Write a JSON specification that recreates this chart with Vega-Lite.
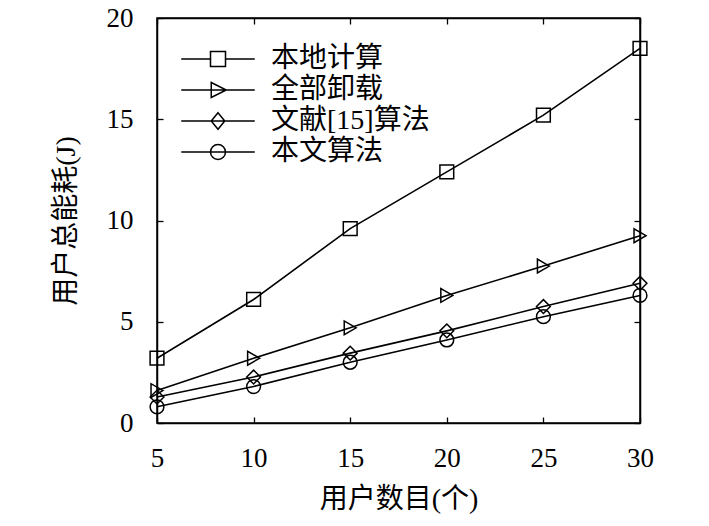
{
  "$schema": "https://vega.github.io/schema/vega-lite/v6.json",
  "autosize": {"type": "none"},
  "padding": {"left": 157, "top": 18, "right": 69, "bottom": 103},
  "width": 483,
  "height": 405,
  "background": "white",
  "config": {
    "view": {"stroke": "black", "strokeWidth": 1.5},
    "font": "Liberation Serif, Noto Sans CJK SC",
    "axis": {
      "domainColor": "black",
      "domainWidth": 1.5,
      "tickColor": "black",
      "tickWidth": 1.3,
      "tickSize": -6,
      "grid": false,
      "labelFlush": false,
      "labelColor": "black",
      "labelFont": "Liberation Serif",
      "labelFontSize": 27,
      "titleColor": "black",
      "titleFont": "Liberation Serif, Noto Sans CJK SC",
      "titleFontSize": 28,
      "titleFontWeight": "normal"
    }
  },
  "data": {
    "values": [
      {"series": "本地计算", "n": 5, "e": 3.2},
      {"series": "本地计算", "n": 10, "e": 6.1},
      {"series": "本地计算", "n": 15, "e": 9.6},
      {"series": "本地计算", "n": 20, "e": 12.4},
      {"series": "本地计算", "n": 25, "e": 15.2},
      {"series": "本地计算", "n": 30, "e": 18.5},
      {"series": "全部卸载", "n": 5, "e": 1.6},
      {"series": "全部卸载", "n": 10, "e": 3.2},
      {"series": "全部卸载", "n": 15, "e": 4.7},
      {"series": "全部卸载", "n": 20, "e": 6.3},
      {"series": "全部卸载", "n": 25, "e": 7.75},
      {"series": "全部卸载", "n": 30, "e": 9.25},
      {"series": "文献[15]算法", "n": 5, "e": 1.28},
      {"series": "文献[15]算法", "n": 10, "e": 2.27},
      {"series": "文献[15]算法", "n": 15, "e": 3.45},
      {"series": "文献[15]算法", "n": 20, "e": 4.55},
      {"series": "文献[15]算法", "n": 25, "e": 5.75},
      {"series": "文献[15]算法", "n": 30, "e": 6.9},
      {"series": "本文算法", "n": 5, "e": 0.8},
      {"series": "本文算法", "n": 10, "e": 1.8},
      {"series": "本文算法", "n": 15, "e": 3.0},
      {"series": "本文算法", "n": 20, "e": 4.1},
      {"series": "本文算法", "n": 25, "e": 5.25},
      {"series": "本文算法", "n": 30, "e": 6.3}
    ]
  },
  "resolve": {"scale": {"shape": "independent"}, "legend": {"shape": "independent"}},
  "layer": [
    {
      "mark": {"type": "line", "color": "black", "strokeWidth": 1.6, "clip": false},
      "encoding": {
        "x": {
          "field": "n", "type": "quantitative",
          "scale": {"domain": [5, 30], "nice": false},
          "axis": {"orient": "bottom", "values": [5, 10, 15, 20, 25, 30], "labelPadding": 28, "title": "用户数目(个)", "titlePadding": 14}
        },
        "y": {
          "field": "e", "type": "quantitative",
          "scale": {"domain": [0, 20], "nice": false},
          "axis": {"orient": "left", "values": [0, 5, 10, 15, 20], "labelPadding": 30, "title": "用户总能耗(J)", "titlePadding": 26}
        },
        "detail": {"field": "series", "type": "nominal"}
      }
    },
    {
      "mark": {"type": "point", "filled": false, "color": "black", "strokeWidth": 1.5, "size": 190, "opacity": 1, "clip": false},
      "encoding": {
        "x": {
          "field": "n", "type": "quantitative",
          "axis": {"orient": "top", "values": [5, 10, 15, 20, 25, 30], "labels": false, "title": null}
        },
        "y": {
          "field": "e", "type": "quantitative",
          "axis": {"orient": "right", "values": [0, 5, 10, 15, 20], "labels": false, "title": null}
        },
        "shape": {
          "field": "series", "type": "nominal",
          "scale": {
            "domain": ["本地计算", "全部卸载", "文献[15]算法", "本文算法"],
            "range": ["square", "triangle-right", "diamond", "circle"]
          },
          "legend": null
        }
      }
    },
    {
      "transform": [{"filter": "false"}],
      "mark": {"type": "point", "filled": false, "color": "black", "strokeWidth": 1.5, "opacity": 1},
      "encoding": {
        "x": {"field": "n", "type": "quantitative", "axis": null},
        "y": {"field": "e", "type": "quantitative", "axis": null},
        "shape": {
          "field": "series", "type": "nominal",
          "scale": {
            "domain": ["本地计算", "全部卸载", "文献[15]算法", "本文算法"],
            "range": [
              "M-4.9,0H-1M1,0H4.9M-1,-1H1V1H-1Z",
              "M-4.9,0H4.9M-0.9,-1L1.1,0L-0.9,1Z",
              "M-4.9,0H4.9M0,-1.1L0.9,0L0,1.1L-0.9,0Z",
              "M-4.9,0H4.9M1,0A1,1 0 1,1 -1,0A1,1 0 1,1 1,0Z"
            ]
          },
          "legend": {
            "orient": "none",
            "legendX": 47,
            "legendY": 27,
            "title": null,
            "padding": 0,
            "symbolSize": 225,
            "symbolStrokeColor": "black",
            "symbolStrokeWidth": 1.5,
            "symbolFillColor": "transparent",
            "labelFont": "Liberation Serif, Noto Sans CJK SC",
            "labelFontSize": 28,
            "labelColor": "black",
            "labelOffset": 39,
            "rowPadding": 3
          }
        }
      }
    }
  ]
}
